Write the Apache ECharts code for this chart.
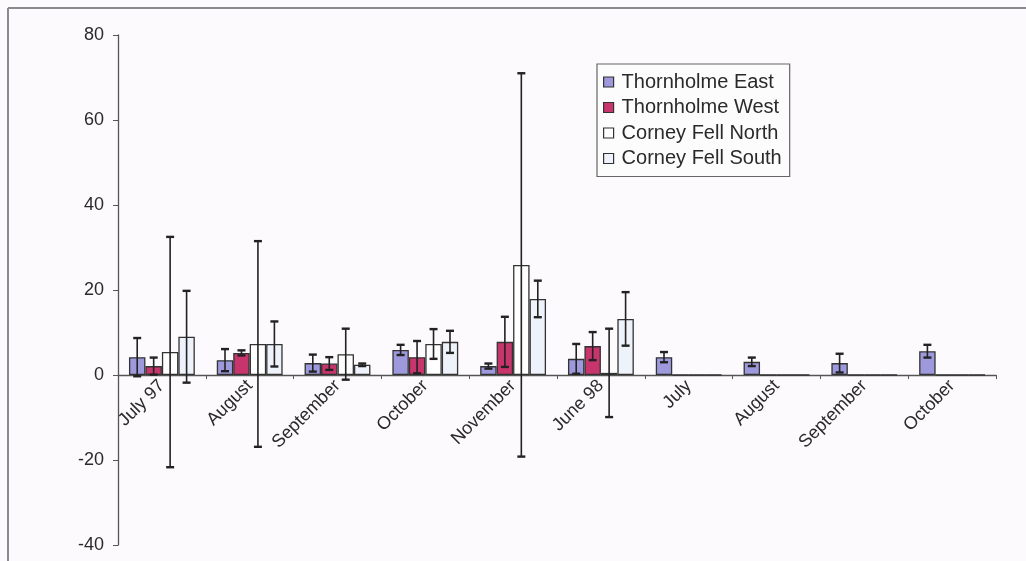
<!DOCTYPE html>
<html>
<head>
<meta charset="utf-8">
<script src="https://cdn.jsdelivr.net/npm/echarts@6/dist/echarts.min.js"></script>
<style>html,body{margin:0;padding:0;background:#fcfafc;}#c{width:1026px;height:561px;}</style>
</head>
<body>
<div id="c"></div>
<script>
var categories = ['July 97','August','September','October','November','June 98','July','August','September','October'];
var seriesNames = ['Thornholme East','Thornholme West','Corney Fell North','Corney Fell South'];
var thornholmeEast = [4.2, 3.5, 2.8, 5.9, 2.1, 3.8, 4.2, 3.1, 2.8, 5.6];
var thornholmeEastErr = [4.5, 2.6, 2.0, 1.2, 0.6, 3.5, 1.2, 1.0, 2.2, 1.5];
var thornholmeWest = [2.1, 5.2, 2.7, 4.2, 7.8, 6.8, 0, 0, 0, 0];
var thornholmeWestErr = [2.0, 0.6, 1.5, 3.8, 5.9, 3.3, 0, 0, 0, 0];
var corneyNorth = [5.4, 7.3, 4.9, 7.3, 25.9, 0.5, 0, 0, 0, 0];
var corneyNorthErr = [27.1, 24.2, 6.0, 3.5, 45.1, 10.4, 0, 0, 0, 0];
var corneySouth = [9.0, 7.3, 2.4, 7.8, 17.9, 13.2, 0, 0, 0, 0];
var corneySouthErr = [10.8, 5.3, 0.3, 2.6, 4.3, 6.3, 0, 0, 0, 0];
var yTicks = [-40, -20, 0, 20, 40, 60, 80];

var values = [thornholmeEast, thornholmeWest, corneyNorth, corneySouth];
var errors = [thornholmeEastErr, thornholmeWestErr, corneyNorthErr, corneySouthErr];
var fills = ['#9d99dc', '#c8346c', '#ffffff', '#eef2fa'];
var nBars = 4, catGap = 0.25;
var font = "'Liberation Sans', Arial, sans-serif";
var yMin = -40, yMax = 80;
var gridTop = 35, gridBottom = 16, chartH = 561;
var plotH = chartH - gridTop - gridBottom;

var series = [];
values.forEach(function (vals, s) {
  series.push({
    name: seriesNames[s], type: 'bar', data: vals,
    barCategoryGap: '25%', barGap: '0%',
    itemStyle: { color: fills[s], borderColor: '#333', borderWidth: 1.3 },
    emphasis: { disabled: true }, z: 2
  });
});
values.forEach(function (vals, s) {
  var d = vals.map(function (v, i) { return [i, v, errors[s][i]]; });
  series.push({
    name: 'err' + s, type: 'custom', data: d, z: 5,
    encode: { x: 0, y: 1 },
    renderItem: function (params, api) {
      var ci = api.value(0), v = api.value(1), e = api.value(2);
      if (!(e > 0)) return;
      var band = api.size([1, 0])[0];
      var bw = band * (1 - catGap) / nBars;
      var c = api.coord([ci, v]);
      var x = c[0] - band * (1 - catGap) / 2 + bw * (s + 0.5);
      var yt = api.coord([ci, v + e])[1];
      var yb = api.coord([ci, v - e])[1];
      var st = { stroke: '#222', lineWidth: 1.6 };
      var cap = 4;
      return { type: 'group', children: [
        { type: 'line', shape: { x1: x, y1: yt, x2: x, y2: yb }, style: st },
        { type: 'line', shape: { x1: x - cap, y1: yt, x2: x + cap, y2: yt }, style: { stroke: '#222', lineWidth: 2.4 } },
        { type: 'line', shape: { x1: x - cap, y1: yb, x2: x + cap, y2: yb }, style: { stroke: '#222', lineWidth: 2.4 } }
      ]};
    }
  });
});

var chart = echarts.init(document.getElementById('c'), null, { renderer: 'canvas' });
chart.setOption({
  backgroundColor: '#fcfafc',
  animation: false,
  textStyle: { fontFamily: font },
  grid: { left: 118, right: 30, top: gridTop, bottom: gridBottom, containLabel: false, outerBoundsMode: 'none' },
  graphic: [
    { type: 'line', shape: { x1: 8, y1: 8, x2: 1030, y2: 8 }, style: { stroke: '#8a8a8e', lineWidth: 2 } },
    { type: 'line', shape: { x1: 8, y1: 8, x2: 8, y2: 570 }, style: { stroke: '#8a8a8e', lineWidth: 2 } }
  ],
  legend: {
    data: seriesNames, orient: 'vertical', left: 597, top: 64,
    icon: 'rect',
    itemWidth: 10, itemHeight: 10, itemGap: 5.5,
    padding: [8, 8, 8, 6],
    borderColor: '#666', borderWidth: 1.2, backgroundColor: '#fdfcfd',
    textStyle: { fontSize: 20, lineHeight: 20, color: '#2a2a2a', fontFamily: font, padding: [0, 0, 0, 3] },
    itemStyle: { borderColor: '#333', borderWidth: 1.2 },
    selectedMode: false
  },
  xAxis: {
    type: 'category', data: categories, position: 'bottom',
    offset: -plotH * (0 - yMin) / (yMax - yMin),
    axisLine: { onZero: false, lineStyle: { color: '#555', width: 1.3 } },
    axisTick: { show: true, length: 4, lineStyle: { color: '#555' } },
    axisLabel: { rotate: 45, fontSize: 18, color: '#2a2a2a', margin: 8, fontFamily: font, interval: 0 },
    splitLine: { show: false }
  },
  yAxis: {
    type: 'value', min: yMin, max: yMax, interval: 20,
    axisLine: { show: true, lineStyle: { color: '#555', width: 1.3 } },
    axisTick: { show: true, length: 5, lineStyle: { color: '#555' } },
    axisLabel: { fontSize: 18, color: '#2a2a2a', margin: 14, fontFamily: font,
      formatter: function (v) { return yTicks.indexOf(v) >= 0 ? String(v) : ''; } },
    splitLine: { show: false }
  },
  series: series
});
</script>
</body>
</html>
